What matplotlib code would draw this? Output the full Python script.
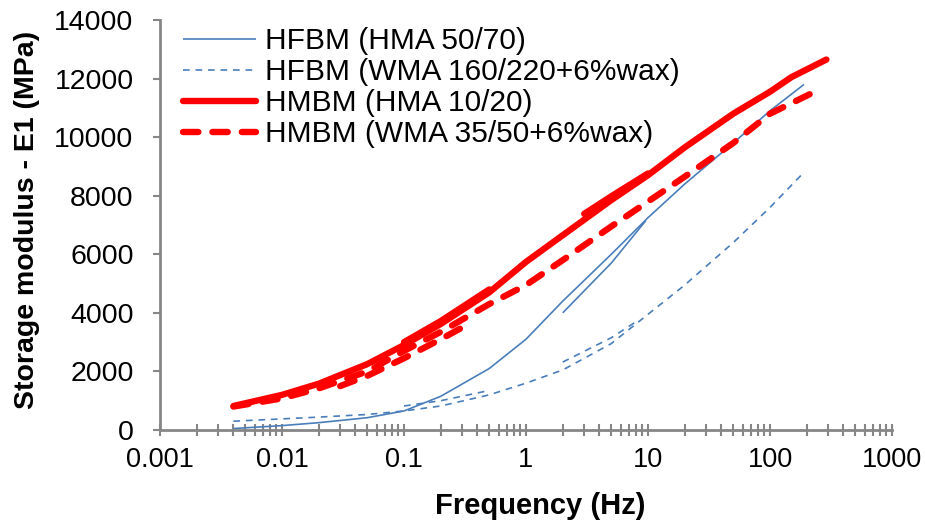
import matplotlib
matplotlib.use('Agg')
import matplotlib.pyplot as plt
import numpy as np
from matplotlib.ticker import NullFormatter, LogLocator

plt.rcParams['font.family'] = ['Liberation Sans', 'DejaVu Sans']

# HFBM (HMA 50/70) - main curve + short overlapping sweep
f_hf_hma = [0.004, 0.01, 0.02, 0.05, 0.1, 0.2, 0.5, 1, 2, 5, 10, 20, 50, 100, 190]
E_hf_hma = [50, 150, 250, 420, 650, 1150, 2100, 3100, 4400, 6000, 7250, 8400, 9800, 10900, 11800]
f_hf_hma_b = [2, 5, 9.6]
E_hf_hma_b = [4000, 5700, 7150]

# HFBM (WMA 160/220+6%wax)
f_hf_wma = [0.004, 0.01, 0.02, 0.05, 0.1, 0.2, 0.5, 1, 2, 5, 10, 20, 50, 100, 180]
E_hf_wma = [300, 380, 440, 530, 650, 820, 1200, 1600, 2050, 2950, 3950, 4950, 6400, 7600, 8700]
f_hf_wma_b = [0.1, 0.2, 0.5]
E_hf_wma_b = [820, 1000, 1350]
f_hf_wma_c = [2, 5, 8]
E_hf_wma_c = [2320, 3150, 3700]

# HMBM (HMA 10/20)
f_hm_hma = [0.004, 0.01, 0.02, 0.05, 0.1, 0.2, 0.5, 1, 2, 5, 10, 20, 50, 100, 150, 290]
E_hm_hma = [820, 1200, 1580, 2250, 2900, 3620, 4700, 5740, 6650, 7850, 8700, 9650, 10800, 11550, 12050, 12650]
f_hm_hma_b = [0.1, 0.2, 0.5]
E_hm_hma_b = [3000, 3720, 4800]
f_hm_hma_c = [3, 5, 10]
E_hm_hma_c = [7380, 7980, 8760]

# HMBM (WMA 35/50+6%wax)
f_hm_wma = [0.004, 0.01, 0.02, 0.05, 0.1, 0.2, 0.5, 1, 2, 5, 10, 20, 50, 100, 220]
E_hm_wma = [800, 1080, 1420, 2000, 2700, 3350, 4300, 4950, 5800, 6950, 7800, 8650, 9800, 10800, 11500]
f_hm_wma_b = [0.03, 0.05, 0.1, 0.2, 0.3]
E_hm_wma_b = [1500, 1850, 2450, 3100, 3500]

labels = ['HFBM (HMA 50/70)', 'HFBM (WMA 160/220+6%wax)',
          'HMBM (HMA 10/20)', 'HMBM (WMA 35/50+6%wax)']
xticks = [0.001, 0.01, 0.1, 1, 10, 100, 1000]
xticklabels = ['0.001', '0.01', '0.1', '1', '10', '100', '1000']
yticks = [0, 2000, 4000, 6000, 8000, 10000, 12000, 14000]

blue = '#4a7ebb'
red = '#ff0000'

fig = plt.figure(figsize=(9.25, 5.27), dpi=100)
ax = fig.add_axes([160/925, 1 - 430/527, 732/925, 410/527])

blue_solid = dict(color=blue, lw=1.2, solid_capstyle='butt')
blue_dash = dict(color=blue, lw=1.2, dashes=(4, 3.5))
red_solid = dict(color=red, lw=4.6, solid_capstyle='round')
red_dash = dict(color=red, lw=4.6, dashes=(2.4, 2.2), dash_capstyle='round')

l1, = ax.plot(f_hf_hma, E_hf_hma, **blue_solid)
ax.plot(f_hf_hma_b, E_hf_hma_b, **blue_solid)
l2, = ax.plot(f_hf_wma, E_hf_wma, **blue_dash)
ax.plot(f_hf_wma_b, E_hf_wma_b, **blue_dash)
ax.plot(f_hf_wma_c, E_hf_wma_c, **blue_dash)
l3, = ax.plot(f_hm_hma, E_hm_hma, **red_solid)
ax.plot(f_hm_hma_b, E_hm_hma_b, **red_solid)
ax.plot(f_hm_hma_c, E_hm_hma_c, **red_solid)
l4, = ax.plot(f_hm_wma, E_hm_wma, **red_dash)
ax.plot(f_hm_wma_b, E_hm_wma_b, **red_dash)

ax.set_xscale('log')
ax.set_xlim(0.001, 1000)
ax.set_ylim(0, 14000)
ax.set_xticks(xticks)
ax.set_xticklabels(xticklabels)
ax.xaxis.set_minor_locator(LogLocator(base=10, subs=np.arange(2, 10)))
ax.xaxis.set_minor_formatter(NullFormatter())
ax.set_yticks(yticks)
ax.set_yticklabels([str(v) for v in yticks])

# excel-like axes
gray = '#868686'
ax.spines['top'].set_visible(False)
ax.spines['right'].set_visible(False)
for s in ['left', 'bottom']:
    ax.spines[s].set_color(gray)
    ax.spines[s].set_linewidth(2.0)
ax.tick_params(axis='x', which='major', direction='inout', length=9, width=1.5,
               color=gray, labelsize=19.5, pad=8)
ax.tick_params(axis='x', which='minor', direction='inout', length=8, width=1.5, color=gray)
ax.tick_params(axis='y', which='major', direction='out', length=5, width=1.5,
               color=gray, labelsize=20.5, pad=14)

ax.set_xlabel('Frequency (Hz)', fontsize=21, fontweight='bold')
ax.set_ylabel('Storage modulus - E1 (MPa)', fontsize=20.5, fontweight='bold')
ax.xaxis.set_label_coords((540 - 160) / 732, (430 - 492) / 410)
ax.yaxis.set_label_coords((40 - 160) / 732, (430 - 220) / 410)

fig.legend(handles=[l1, l2, l3, l4], labels=labels, loc='upper left',
           bbox_to_anchor=(183/925, 1 - 27/527), frameon=False, fontsize=21.5,
           handlelength=2.45, handletextpad=0.3, labelspacing=0.1,
           borderpad=0, borderaxespad=0)

fig.savefig('out.png', dpi=100)
